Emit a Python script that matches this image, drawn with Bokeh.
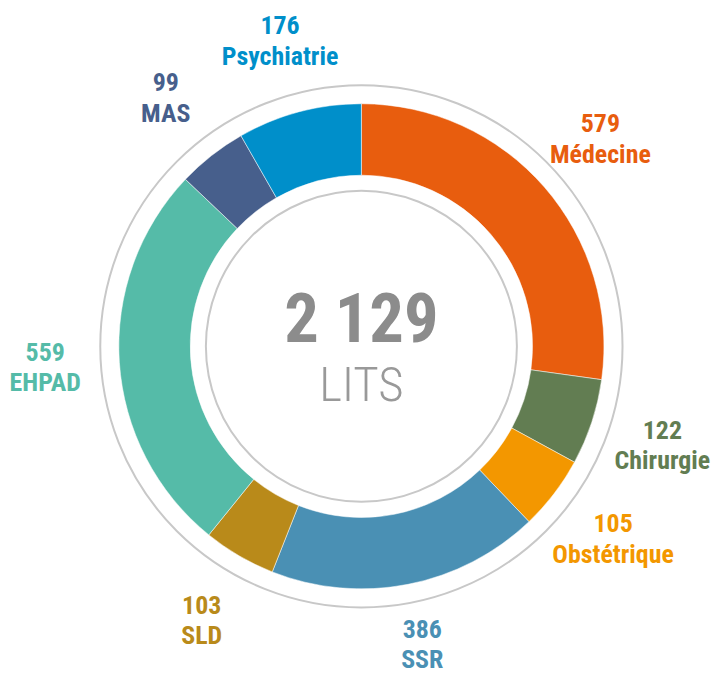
import math
from bokeh.plotting import figure
from bokeh.models import Range1d, ColumnDataSource
from bokeh.core.properties import value
from bokeh.embed import file_html
from bokeh.resources import INLINE

categories = ["Médecine", "Chirurgie", "Obstétrique", "SSR", "SLD", "EHPAD", "MAS", "Psychiatrie"]
values = [579, 122, 105, 386, 103, 559, 99, 176]
colors = ["#e85d0e", "#627d52", "#f39700", "#4a90b4", "#b98a1a", "#55bba8", "#475f8c", "#008fca"]
unit_label = "LITS"

FONT = "Roboto Condensed, Open Sans Condensed, DejaVu Sans Condensed, sans-serif"
FONT_LIGHT = "Roboto Condensed Light, Roboto Condensed, sans-serif"

total = sum(values)
total_label = f"{total:,}".replace(",", " ")

# layout in reference pixel units (728 x 692 canvas), scaled into the figure
W, H = 712, 676
S = W / 728.0
cx, cy = 369, -354
r_in, r_out = 175, 248
ring_out, ring_in = 267, 159
label_r = 324
half_block = 33  # half height of a two-line label, keeps labels inside the canvas

starts, ends, lx, ly, nums = [], [], [], [], []
cum = 0
for v in values:
    a0 = math.pi / 2 - cum / total * 2 * math.pi
    cum += v
    a1 = math.pi / 2 - cum / total * 2 * math.pi
    starts.append(a0)
    ends.append(a1)
    mid = (a0 + a1) / 2
    lx.append(cx + label_r * math.cos(mid))
    y = cy + label_r * math.sin(mid)
    y = min(max(y, -692 + half_block), -half_block)
    ly.append(y)
    nums.append(str(v))

src = ColumnDataSource(dict(cat=categories, val=nums, color=colors, start=starts, end=ends, lx=lx, ly=ly))

p = figure(width=W, height=H, x_range=Range1d(0, 728), y_range=Range1d(-692, 0),
           output_backend="svg", toolbar_location=None, min_border=0,
           x_axis_type=None, y_axis_type=None)
p.grid.visible = False
p.outline_line_color = None
p.background_fill_color = "white"
p.border_fill_color = "white"

# grey rings
p.circle(x=[cx], y=[cy], radius=ring_out, fill_color=None, line_color="#c8c8c8", line_width=2)
p.circle(x=[cx], y=[cy], radius=ring_in, fill_color=None, line_color="#c8c8c8", line_width=2)

p.annular_wedge(x=cx, y=cy, inner_radius=r_in, outer_radius=r_out,
                start_angle="start", end_angle="end", direction="clock",
                fill_color="color", line_color="white", line_width=0.5, source=src)

fs = f"{26.5 * S:.1f}px"
p.text(x="lx", y="ly", text="val", text_color="color", text_align="center", text_baseline="middle",
       y_offset=-15.5 * S, text_font=value(FONT), text_font_style="bold", text_font_size=fs, source=src)
p.text(x="lx", y="ly", text="cat", text_color="color", text_align="center", text_baseline="middle",
       y_offset=15.5 * S, text_font=value(FONT), text_font_style="bold", text_font_size=fs, source=src)

# centre
p.text(x=[cx], y=[cy], text=[total_label], text_color="#8c8c8c", text_align="center",
       text_baseline="middle", y_offset=-28 * S, text_font=value(FONT), text_font_style="bold",
       text_font_size=f"{70 * S:.1f}px")
p.text(x=[cx], y=[cy], text=[unit_label], text_color="#999999", text_align="center",
       text_baseline="middle", y_offset=39 * S, text_font=value(FONT_LIGHT), text_font_style="normal",
       text_font_size=f"{50 * S:.1f}px")

open("out.html", "w").write(file_html(p, INLINE))
